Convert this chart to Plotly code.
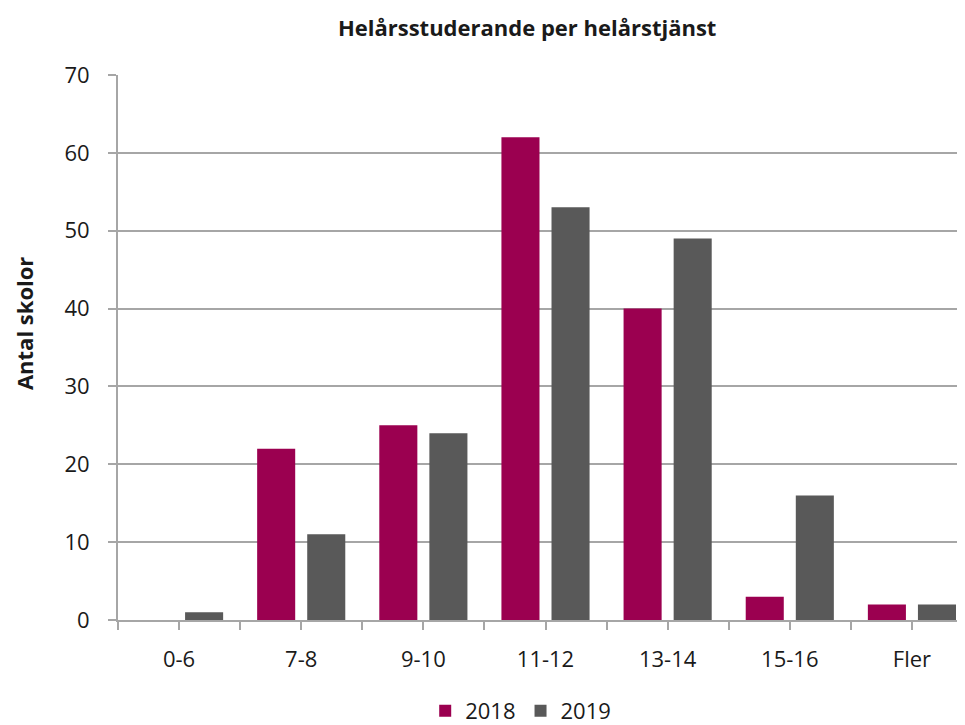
import plotly.graph_objects as go

categories = ["0-6", "7-8", "9-10", "11-12", "13-14", "15-16", "Fler"]
values_2018 = [0, 22, 25, 62, 40, 3, 2]
values_2019 = [1, 11, 24, 53, 49, 16, 2]
series_names = ["2018", "2019"]
y_ticks = [0, 10, 20, 30, 40, 50, 60, 70]

FONT = "Open Sans"
x_pos = list(range(len(categories)))
tickvals = [i * 0.5 - 0.5 for i in range(2 * len(categories) + 1)]
ticktext = [categories[int(v)] if v == int(v) and 0 <= v < len(categories) else "" for v in tickvals]

fig = go.Figure()
fig.add_trace(go.Bar(x=x_pos, y=values_2018, name=series_names[0],
                     marker=dict(color="#9B0050", line=dict(width=0))))
fig.add_trace(go.Bar(x=x_pos, y=values_2019, name=series_names[1],
                     marker=dict(color="#595959", line=dict(width=0))))

fig.update_layout(
    width=965, height=725,
    paper_bgcolor="white", plot_bgcolor="white",
    margin=dict(l=110, r=0, t=67, b=113, autoexpand=False),
    barmode="group", bargap=0.18, bargroupgap=0.24,
    font=dict(family=FONT, size=22, color="#1a1a1a"),
    title=dict(text="<b>Helårsstuderande per helårstjänst</b>", x=0.538, xanchor="center",
               y=0.9724, yanchor="middle", font=dict(size=22, family=FONT, color="#1a1a1a")),
    legend=dict(orientation="h", x=0.471, xanchor="center", y=-0.167, yanchor="middle",
                font=dict(size=22), traceorder="normal"),
    showlegend=True,
    annotations=[dict(text="<b>Antal skolor</b>", textangle=-90, x=0, xref="paper",
                      xshift=-94, y=0.543, yref="paper", xanchor="center", yanchor="middle",
                      showarrow=False, font=dict(size=22, family=FONT, color="#1a1a1a"))],
)
fig.update_xaxes(range=[-0.5, 6.5], tickmode="array", tickvals=tickvals, ticktext=ticktext,
                 ticks="outside", ticklen=8, tickcolor="#a6a6a6", tickwidth=2,
                 showline=True, linecolor="#a6a6a6", linewidth=2, showgrid=False,
                 zeroline=False, tickfont=dict(size=22), ticklabelstandoff=11,
                 automargin=False)
fig.update_yaxes(range=[0, 70], tickvals=y_ticks, ticks="outside", ticklen=8,
                 tickcolor="#a6a6a6", tickwidth=2, showline=True, linecolor="#a6a6a6",
                 linewidth=2, showgrid=True, gridcolor="#a6a6a6", gridwidth=2,
                 zeroline=False, tickfont=dict(size=22), ticklabelstandoff=14,
                 automargin=False)

fig.write_html("out.html")
